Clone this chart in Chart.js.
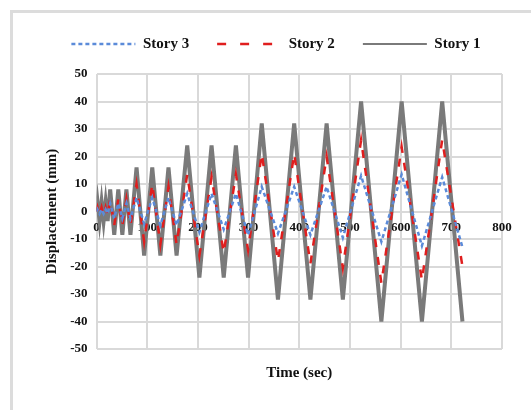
<!DOCTYPE html>
<html>
<head>
<meta charset="utf-8">
<script src="https://cdn.jsdelivr.net/npm/chart.js@4/dist/chart.umd.min.js"></script>
<style>
  body { margin: 0; background: #fff; }
  #wrap { position: relative; width: 531px; height: 410px; overflow: hidden; }
  #frame { position: absolute; left: 10px; top: 10px; width: 560px; height: 450px;
           border: 3px solid #dcdcdc; pointer-events: none; }
</style>
</head>
<body>
<div id="wrap">
  <canvas id="dispChart"></canvas>
  <div id="frame"></div>
</div>
<script>
// peak / trough times (sec)
const time = [0, 2, 6, 10, 14, 18, 22, 27, 35, 43, 51, 59, 67, 79, 94, 110, 126, 142, 158,
              179, 203, 227, 251, 275, 299, 326, 358, 390, 422, 454, 486, 522, 562, 602, 642, 682, 722];

// displacement (mm) at those times
const story1 = [0, 3.5, -3.5, 3.5, -3.5, 3.5, -3.5, 8, -8.5, 8, -8.5, 8, -8.5, 16, -16, 16, -16, 16, -16,
                24, -24, 24, -24, 24, -24, 32, -32, 32, -32, 32, -32, 40, -40, 40, -40, 40, -40];
const story2 = [0, 1.5, -1.5, 1.5, -1.5, 1.5, -1.5, 4.5, -5, 4.5, -5, 4.5, -5, 10, -11, 10, -12, 9, -12,
                13.5, -16, 12.5, -15, 13.5, -14, 21, -18, 21, -19, 20, -20.5, 26, -26, 23.5, -25, 26, -20];
const story3 = [0, 0.8, -0.8, 0.8, -0.8, 0.8, -0.8, 3, -2.5, 3, -2.5, 3, -2.5, 5, -4.5, 5, -5, 5, -5,
                6.5, -7.5, 6.5, -6.5, 6.5, -8.5, 9, -8, 9, -8.5, 9, -9.5, 13, -11, 13.5, -12.5, 12.5, -13];

const seriesNames = ['Story 3', 'Story 2', 'Story 1'];

const toPoints = (vals) => time.map((t, i) => ({ x: t, y: vals[i] }));

const font = 'Liberation Serif';

// push the plot down below the legend
const legendGap = {
    id: 'legendGap',
    beforeInit(chart) {
        if (!chart.legend) return;
        const fit = chart.legend.fit;
        chart.legend.fit = function () {
            fit.bind(chart.legend)();
            this.height += 12.5;
        };
    }
};

const data = {
    datasets: [
        {
            label: seriesNames[0],
            data: toPoints(story3),
            borderColor: '#5b8bd9',
            borderWidth: 2.5,
            borderDash: [4, 3],
            legendDash: [4, 3],
            legendWidth: 2.5
        },
        {
            label: seriesNames[1],
            data: toPoints(story2),
            borderColor: '#e01e1e',
            borderWidth: 2.5,
            borderDash: [8, 10],
            legendDash: [9, 14],
            legendWidth: 2.5
        },
        {
            label: seriesNames[2],
            data: toPoints(story1),
            borderColor: '#7a7a7a',
            borderWidth: 4,
            legendDash: [],
            legendWidth: 2
        }
    ]
};

const config = {
    type: 'line',
    data: data,
    options: {
        responsive: true,
        maintainAspectRatio: false,
        animation: false,
        elements: {
            point: { radius: 0 },
            line: { tension: 0 }
        },
        layout: { padding: { left: 40, right: 19, top: 8.5, bottom: 24 } },
        scales: {
            x: {
                type: 'linear',
                position: { y: 0 },
                min: 0,
                max: 800,
                grid: { color: '#d9d9d9', lineWidth: 2, drawTicks: false },
                border: { display: false },
                ticks: {
                    stepSize: 100,
                    padding: 8,
                    color: '#111',
                    font: { family: font, size: 13, weight: 'bold' }
                }
            },
            x2: {
                type: 'linear',
                position: 'bottom',
                grid: { display: false },
                border: { display: false },
                ticks: { display: false },
                title: {
                    display: true,
                    text: 'Time (sec)',
                    color: '#111',
                    padding: { top: 7, bottom: 4 },
                    font: { family: font, size: 15, weight: 'bold' }
                }
            },
            y: {
                min: -50,
                max: 50,
                grid: { color: '#d9d9d9', lineWidth: 2, drawTicks: false },
                border: { display: false },
                ticks: {
                    stepSize: 10,
                    padding: 9,
                    color: '#111',
                    font: { family: font, size: 13, weight: 'bold' }
                },
                title: {
                    display: true,
                    text: 'Displacement (mm)',
                    color: '#111',
                    padding: { top: 3.5, bottom: 2 },
                    font: { family: font, size: 15, weight: 'bold' }
                },
                afterFit: (scale) => { scale.width = 56.5; }
            },
            y2: {
                type: 'linear',
                position: 'right',
                grid: { display: false },
                border: { display: false },
                ticks: { display: false },
                afterFit: (scale) => { scale.width = 10; }
            }
        },
        plugins: {
            legend: {
                position: 'top',
                labels: {
                    usePointStyle: true,
                    pointStyleWidth: 64,
                    padding: 28,
                    color: '#111',
                    font: { family: font, size: 15, weight: 'bold' },
                    generateLabels: (chart) => chart.data.datasets.map((ds, i) => ({
                        text: ds.label,
                        fillStyle: 'rgba(0,0,0,0)',
                        strokeStyle: ds.borderColor,
                        lineWidth: ds.legendWidth,
                        lineDash: ds.legendDash,
                        pointStyle: 'line',
                        hidden: false,
                        datasetIndex: i,
                        fontColor: '#111'
                    }))
                }
            },
            tooltip: { enabled: false }
        }
    },
    plugins: [legendGap]
};

new Chart(document.getElementById('dispChart').getContext('2d'), config);
</script>
</body>
</html>
